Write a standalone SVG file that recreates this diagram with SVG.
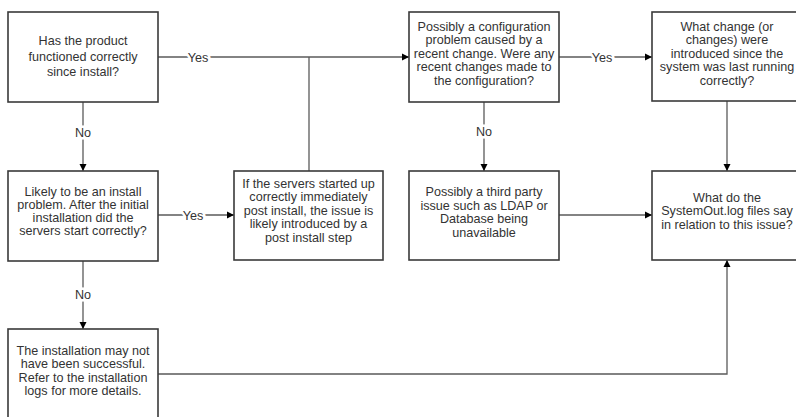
<svg xmlns="http://www.w3.org/2000/svg" width="796" height="417" viewBox="0 0 796 417">
<defs>
<marker id="arr" markerWidth="8" markerHeight="8" refX="7" refY="4" orient="auto" markerUnits="userSpaceOnUse">
<path d="M0,0.5 L7,4 L0,7.5 Z" fill="#000"/>
</marker>
<style>
.box{fill:#fff;stroke:#3a3a3a;stroke-width:1.6}
.t{font-family:"Liberation Sans",Arial,sans-serif;font-size:12.6px;fill:#333;text-anchor:middle}
.c{fill:none;stroke:#5a5a5a;stroke-width:1.3}
.lbl{font-family:"Liberation Sans",Arial,sans-serif;font-size:12.6px;fill:#333;text-anchor:middle;paint-order:stroke;stroke:#fff;stroke-width:5px}
</style>
</defs>
<rect width="796" height="417" fill="#fff"/>
<g id="connectors">
<path class="c" d="M158,57 H409" marker-end="url(#arr)"/>
<path class="c" d="M309,57 V171"/>
<path class="c" d="M559,57 H652" marker-end="url(#arr)"/>
<path class="c" d="M727,101 V171" marker-end="url(#arr)"/>
<path class="c" d="M484,102 V171" marker-end="url(#arr)"/>
<path class="c" d="M83,102 V171" marker-end="url(#arr)"/>
<path class="c" d="M158,215 H234" marker-end="url(#arr)"/>
<path class="c" d="M83,261 V329" marker-end="url(#arr)"/>
<path class="c" d="M559,215 H652" marker-end="url(#arr)"/>
<path class="c" d="M158,374 H727 V260" marker-end="url(#arr)"/>
<text class="lbl" x="198" y="61.5">Yes</text>
<text class="lbl" x="602" y="61.5">Yes</text>
<text class="lbl" x="193" y="219.5">Yes</text>
<text class="lbl" x="484" y="136">No</text>
<text class="lbl" x="83" y="137">No</text>
<text class="lbl" x="83" y="298.5">No</text>
</g>
<g id="n1">
<rect class="box" x="8" y="12" width="150" height="90"/>
<text class="t" x="83" y="45">Has the product</text>
<text class="t" x="83" y="60.5">functioned correctly</text>
<text class="t" x="83" y="76">since install?</text>
</g>
<g id="n2">
<rect class="box" x="409" y="12" width="150" height="90"/>
<text class="t" x="484" y="30.5">Possibly a configuration</text>
<text class="t" x="484" y="44">problem caused by a</text>
<text class="t" x="484" y="57.5">recent change. Were any</text>
<text class="t" x="484" y="71">recent changes made to</text>
<text class="t" x="484" y="84.5">the configuration?</text>
</g>
<g id="n3">
<rect class="box" x="652" y="12" width="150" height="89"/>
<text class="t" x="727" y="30.5">What change (or</text>
<text class="t" x="727" y="44">changes) were</text>
<text class="t" x="727" y="57.5">introduced since the</text>
<text class="t" x="727" y="71">system was last running</text>
<text class="t" x="727" y="84.5">correctly?</text>
</g>
<g id="n4">
<rect class="box" x="8" y="171" width="150" height="90"/>
<text class="t" x="83" y="196">Likely to be an install</text>
<text class="t" x="83" y="209">problem. After the initial</text>
<text class="t" x="83" y="222">installation did the</text>
<text class="t" x="83" y="235">servers start correctly?</text>
</g>
<g id="n5">
<rect class="box" x="234" y="171" width="149" height="89"/>
<text class="t" x="308.5" y="187.5">If the servers started up</text>
<text class="t" x="308.5" y="201">correctly immediately</text>
<text class="t" x="308.5" y="214.5">post install, the issue is</text>
<text class="t" x="308.5" y="228">likely introduced by a</text>
<text class="t" x="308.5" y="241.5">post install step</text>
</g>
<g id="n6">
<rect class="box" x="409" y="171" width="150" height="89"/>
<text class="t" x="484" y="196">Possibly a third party</text>
<text class="t" x="484" y="209.5">issue such as LDAP or</text>
<text class="t" x="484" y="223">Database being</text>
<text class="t" x="484" y="236.5">unavailable</text>
</g>
<g id="n7">
<rect class="box" x="652" y="171" width="150" height="89"/>
<text class="t" x="727" y="201.5">What do the</text>
<text class="t" x="727" y="215">SystemOut.log files say</text>
<text class="t" x="727" y="228.5">in relation to this issue?</text>
</g>
<g id="n8">
<rect class="box" x="8" y="329" width="150" height="90"/>
<text class="t" x="83" y="354.5">The installation may not</text>
<text class="t" x="83" y="368">have been successful.</text>
<text class="t" x="83" y="381.5">Refer to the installation</text>
<text class="t" x="83" y="395">logs for more details.</text>
</g>
</svg>
